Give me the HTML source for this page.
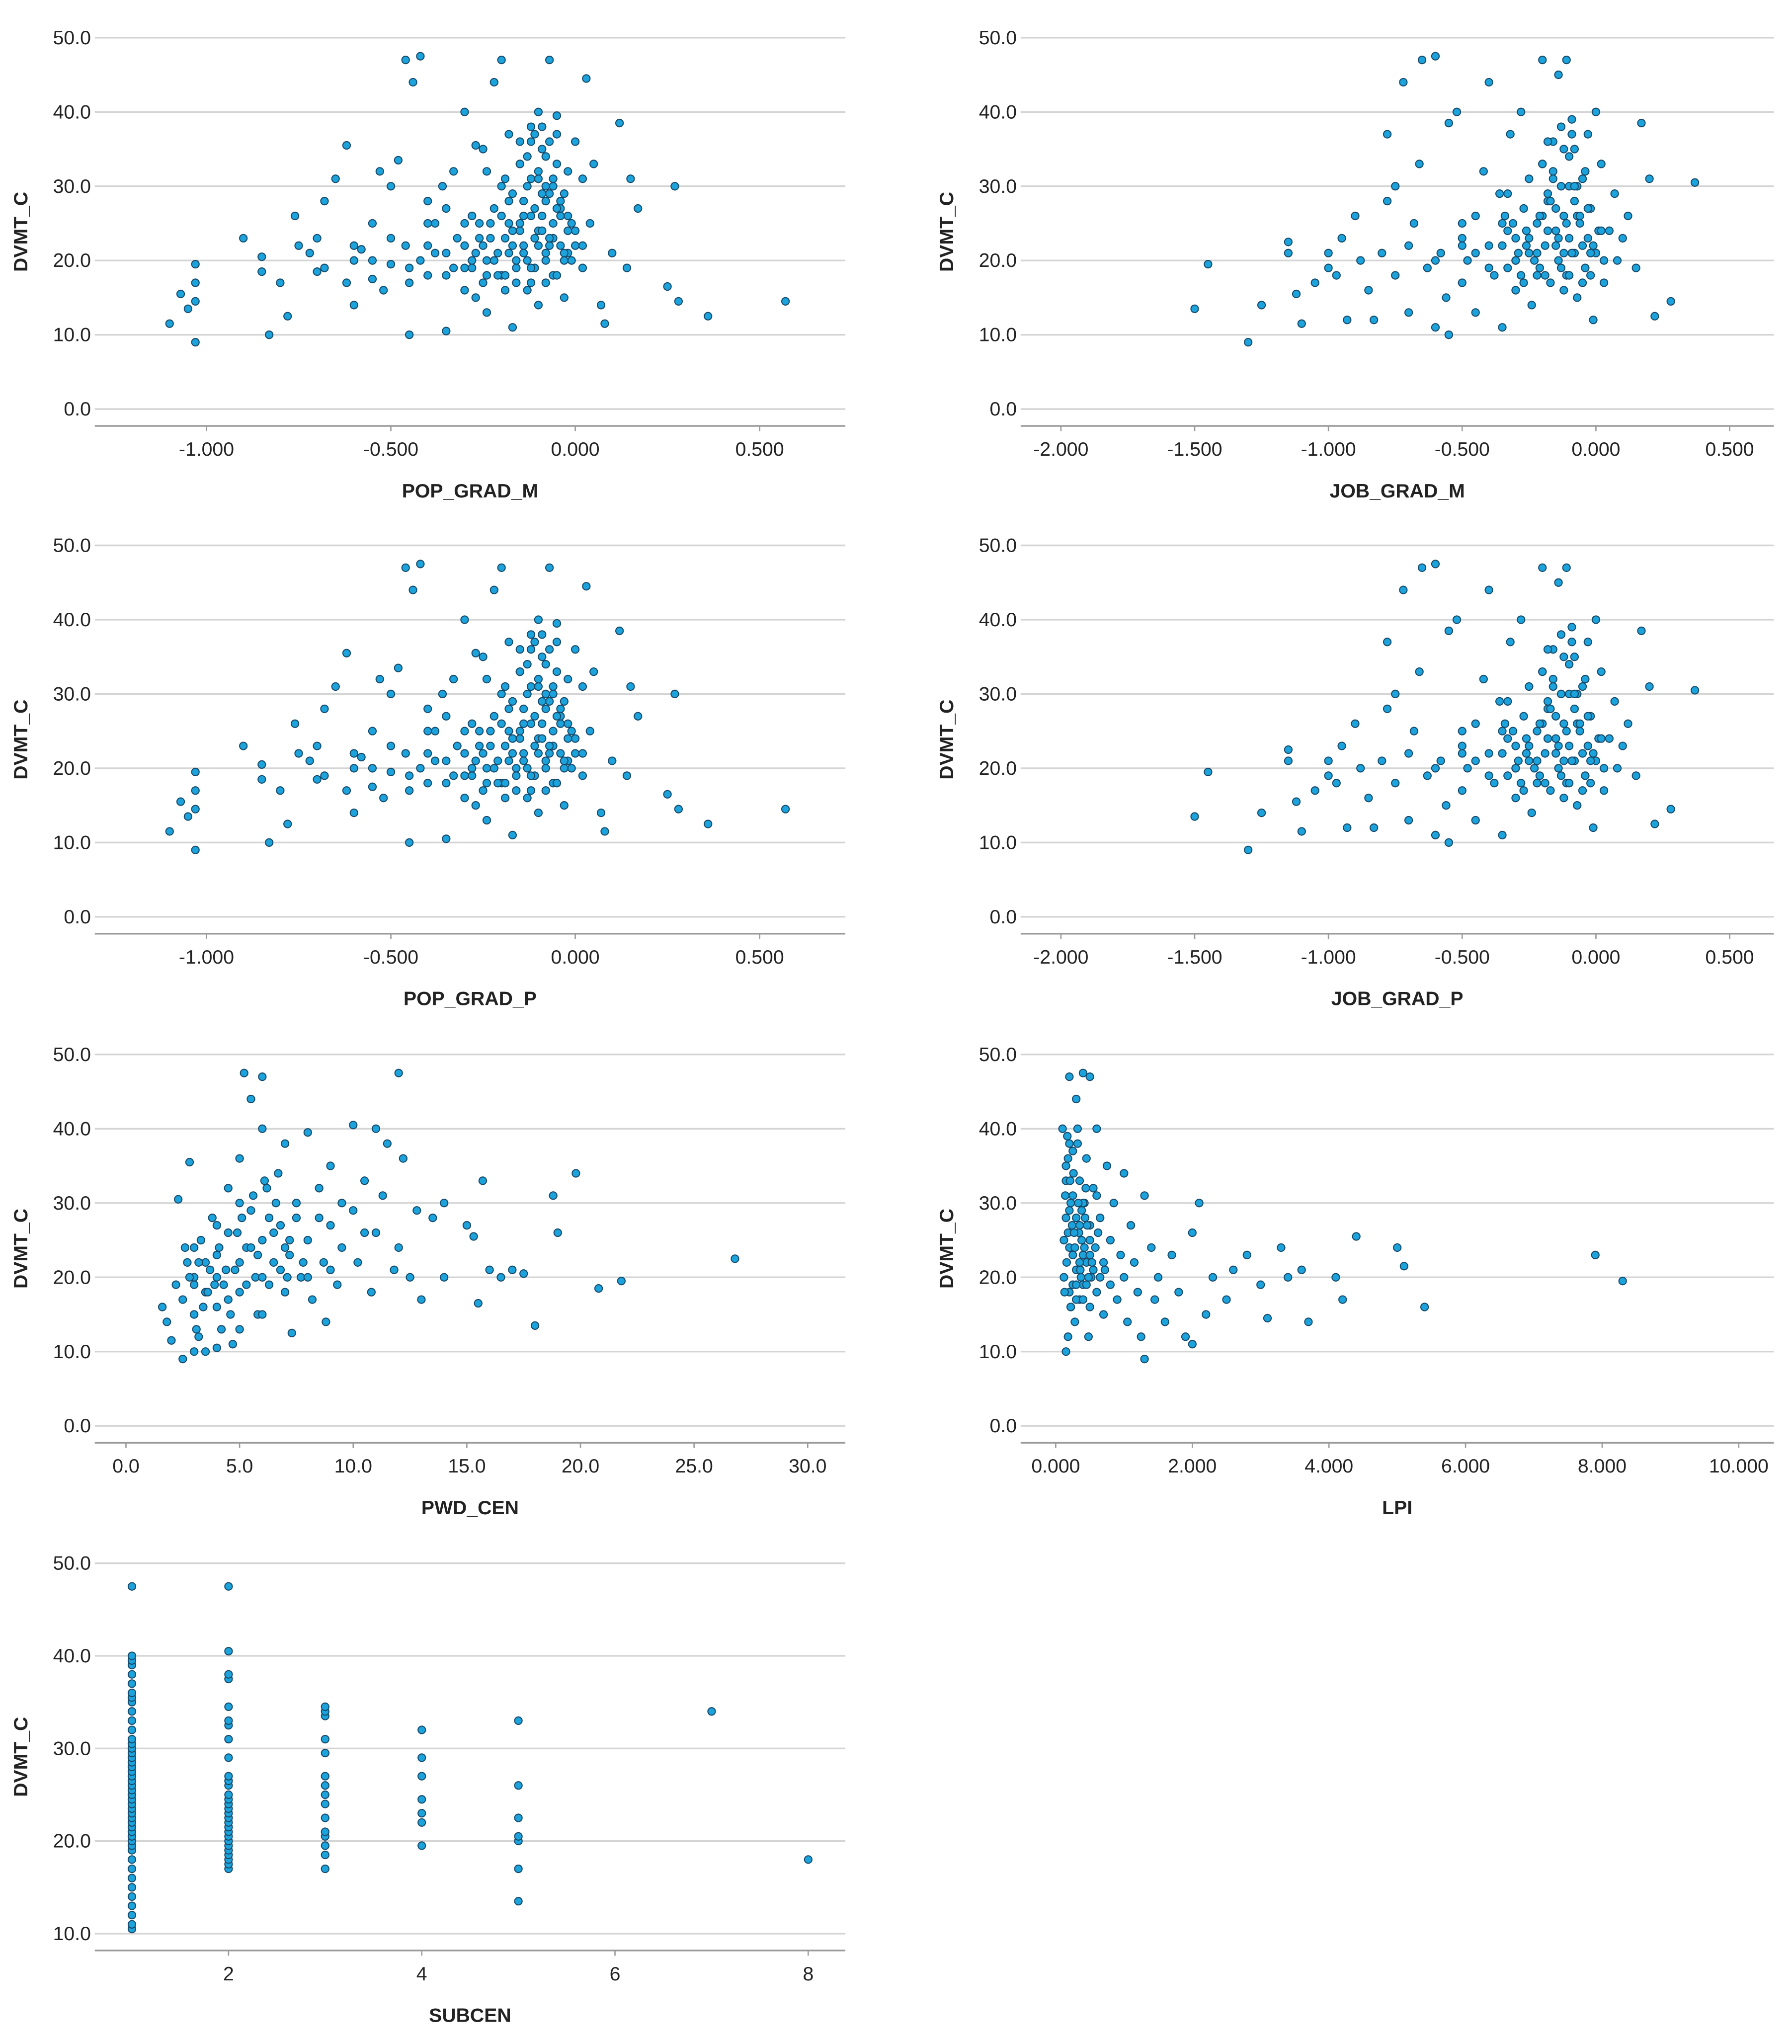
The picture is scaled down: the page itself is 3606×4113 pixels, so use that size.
<!DOCTYPE html>
<html><head><meta charset="utf-8"><style>
html,body{margin:0;padding:0;background:#fff;}
svg{display:block;font-family:"Liberation Sans",Arial,sans-serif;}
</style></head><body>
<svg id="chart" width="3606" height="4113" viewBox="0 0 1380 1574" preserveAspectRatio="none" xmlns="http://www.w3.org/2000/svg"></svg>
<script>
// ---- data (x,y pairs) ----
const popGradX=[-1.1,-1.07,-1.05,-1.03,-1.03,-1.03,-1.03,-0.9,-0.85,-0.85,-0.83,-0.8,-0.78,-0.75,-0.76,-0.72,-0.7,-0.68,-0.68,-0.65,-0.62,-0.6,-0.6,-0.58,-0.55,-0.55,-0.53,-0.5,-0.5,-0.48,-0.46,-0.44,-0.42,-0.46,-0.45,-0.42,-0.4,-0.4,-0.38,-0.36,-0.35,-0.35,-0.33,-0.32,-0.3,-0.3,-0.28,-0.27,-0.25,-0.25,-0.24,-0.22,-0.2,-0.2,-0.2,-0.18,-0.18,-0.17,-0.16,-0.15,-0.14,-0.14,-0.13,-0.12,-0.12,-0.11,-0.1,-0.1,-0.1,-0.09,-0.08,-0.08,-0.07,-0.06,-0.06,-0.05,-0.05,-0.04,-0.03,-0.03,-0.02,-0.01,0,0,0.02,0.02,0.03,0.05,0.07,0.08,0.1,0.12,0.15,0.17,0.14,0.25,0.27,0.28,0.36,0.57,-0.28,-0.26,-0.24,-0.22,-0.21,-0.19,-0.17,-0.16,-0.15,-0.13,-0.12,-0.11,-0.09,-0.08,-0.07,-0.06,-0.04,-0.02,-0.15,-0.05,-0.3,-0.35,-0.4,-0.45,-0.52,-0.62,-0.7,-0.24,-0.19,-0.1,-0.27,0.04,-0.02,-0.08,-0.18,-0.23,
-0.3,-0.28,-0.26,-0.25,-0.23,-0.22,-0.2,-0.19,-0.18,-0.17,-0.16,-0.15,-0.14,-0.13,-0.12,-0.11,-0.1,-0.09,-0.08,-0.07,-0.06,-0.05,-0.04,-0.03,-0.02,0,-0.3,-0.27,-0.24,-0.21,-0.19,-0.17,-0.14,-0.12,-0.09,-0.07,-0.05,-0.03,-0.01,0.02,-0.15,-0.12,-0.1,-0.08,-0.06,-0.04,-0.13,-0.11,-0.09,-0.07,-0.6,-0.55,-0.5,-0.45,-0.4,-0.38,-0.35,-0.33];
const popGradY=[11.5,15.5,13.5,14.5,17,19.5,9,23,20.5,18.5,10,17,12.5,22,26,21,18.5,28,19,31,35.5,20,14,21.5,25,17.5,32,19.5,30,33.5,47,44,47.5,22,10,20,28,18,25,30,21,10.5,32,23,40,19,26,15,35,22,13,44,47,30,18,25,37,11,20,33,28,22,16,38,26,19,31,24,40,35,21,28,47,18,25,33,39.5,22,29,15,26,20,24,36,31,19,44.5,33,14,11.5,21,38.5,31,27,19,16.5,30,14.5,12.5,14.5,20,23,18,27,21,23,29,17,24,20,31,23,26,17,22,30,27,21,36,37,16,27,22,19,16,17,23,32,16,14,35.5,25,32,34,21,25,
22,19,25,17,23,20,26,18,28,22,19,25,21,30,17,27,22,24,20,29,23,18,26,21,24,22,25,21,20,18,31,24,26,19,29,23,27,20,25,22,33,36,32,30,31,28,34,37,38,36,22,20,23,17,25,21,18,19];
const jobGradX=[-1.5,-1.45,-1.3,-1.25,-1.15,-1.15,-1.12,-1.1,-1.05,-1,-1,-0.97,-0.95,-0.93,-0.9,-0.88,-0.85,-0.83,-0.8,-0.78,-0.78,-0.75,-0.75,-0.72,-0.7,-0.7,-0.68,-0.66,-0.65,-0.63,-0.6,-0.6,-0.58,-0.56,-0.55,-0.55,-0.52,-0.5,-0.5,-0.48,-0.45,-0.45,-0.42,-0.4,-0.4,-0.38,-0.36,-0.35,-0.33,-0.32,-0.3,-0.3,-0.28,-0.27,-0.26,-0.25,-0.24,-0.22,-0.21,-0.2,-0.2,-0.19,-0.18,-0.17,-0.16,-0.15,-0.14,-0.14,-0.13,-0.12,-0.11,-0.11,-0.1,-0.1,-0.09,-0.08,-0.08,-0.07,-0.06,-0.05,-0.04,-0.03,-0.03,-0.02,-0.01,0,0,0.02,0.03,0.05,0.07,0.08,0.1,0.12,0.15,0.17,0.2,0.22,0.28,0.37,-0.35,-0.3,-0.25,-0.22,-0.18,-0.15,-0.12,-0.1,-0.07,-0.05,-0.02,-0.4,-0.45,-0.5,-0.33,-0.28,-0.2,-0.16,-0.08,-0.12,
-0.35,-0.33,-0.31,-0.29,-0.27,-0.25,-0.23,-0.21,-0.19,-0.17,-0.15,-0.13,-0.11,-0.09,-0.07,-0.05,-0.03,-0.01,0.01,0.03,-0.34,-0.3,-0.26,-0.22,-0.18,-0.14,-0.1,-0.06,-0.02,0.02,-0.2,-0.16,-0.12,-0.08,-0.04,-0.18,-0.13,-0.09,-0.6,-0.5];
const jobGradY=[13.5,19.5,9,14,21,22.5,15.5,11.5,17,19,21,18,23,12,26,20,16,12,21,28,37,30,18,44,22,13,25,33,47,19,47.5,11,21,15,38.5,10,40,23,17,20,26,13,32,22,44,18,29,11,24,37,20,16,40,27,22,31,14,25,19,33,47,22,28,17,36,24,20,45,30,26,47,18,34,23,39,21,28,15,25,31,19,37,23,27,12,40,21,33,17,24,29,20,23,26,19,38.5,31,12.5,14.5,30.5,25,23,21,18,24,27,21,30,26,22,18,19,21,25,29,18,26,32,35,16,
22,19,25,21,17,23,20,26,18,28,22,19,25,21,30,17,27,22,24,20,26,20,24,21,29,23,18,26,21,24,33,31,35,30,32,36,38,37,20,22];
const pwdX=[1.6,1.8,2,2.2,2.3,2.5,2.7,2.8,3,3,3.2,3.3,3.5,3.5,3.7,3.8,4,4,4.2,4.3,4.5,4.5,4.7,4.8,5,5,5.2,5.3,5.5,5.5,5.7,5.8,6,6,6,6.2,6.3,6.5,6.7,6.8,7,7,7.2,7.3,7.5,7.7,8,8,8.2,8.5,8.7,8.8,9,9,9.3,9.5,10,10,10.2,10.5,10.8,11,11,11.3,11.5,11.8,12,12,12.2,12.5,12.8,13,13.5,14,14,15,15.3,15.5,15.7,16,16.5,17,17.5,18,18.8,19,19.8,20.8,21.8,26.8,3,3.5,4,4.5,5,5.5,6,6.5,7,4,5,8,9,3,2.5,6,7.5,5,4,3,
2.8,3.2,3.6,4.1,4.4,4.9,5.3,5.8,6.3,6.8,7.2,7.8,3.4,3.9,4.6,5.1,5.6,6.1,6.6,7.1,2.6,3.1,8.5,9.5,10.5];
const pwdY=[16,14,11.5,19,30.5,9,22,35.5,15,20,12,25,18,10,21,28,16,23,13,19,32,26,11,21,36,18,47.5,24,44,29,20,15,40,25,47,32,19,22,34,27,18,38,23,12.5,30,20,25,39.5,17,32,22,14,35,27,19,24,40.5,29,22,33,18,40,26,31,38,21,47.5,24,36,20,29,17,28,30,20,27,25.5,16.5,33,21,20,21,20.5,13.5,31,26,34,18.5,19.5,22.5,19,22,20,17,22,24,20,26,24,27,30,20,21,24,17,15,28,13,10.5,10,
20,22,18,24,21,26,19,23,28,21,25,22,16,19,15,28,31,33,30,20,24,13,28,30,26];
const lpiX=[0.1,0.12,0.15,0.15,0.18,0.2,0.2,0.22,0.25,0.25,0.28,0.3,0.3,0.32,0.35,0.35,0.38,0.4,0.4,0.42,0.45,0.45,0.48,0.5,0.5,0.52,0.55,0.58,0.6,0.6,0.65,0.7,0.7,0.75,0.8,0.8,0.85,0.9,0.95,1,1,1.05,1.1,1.15,1.2,1.25,1.3,1.3,1.4,1.45,1.5,1.6,1.7,1.8,1.9,2,2,2.1,2.2,2.3,2.5,2.6,2.8,3,3.1,3.3,3.4,3.6,3.7,4.1,4.2,4.4,5,5.1,5.4,7.9,8.3,0.15,0.2,0.25,0.3,0.35,0.4,0.45,0.5,0.55,0.15,0.2,0.3,0.25,0.35,0.4,0.6,0.5,0.18,0.22,0.65,
0.12,0.14,0.16,0.18,0.2,0.22,0.24,0.26,0.28,0.3,0.32,0.34,0.36,0.38,0.4,0.42,0.44,0.46,0.48,0.5,0.13,0.17,0.21,0.27,0.33,0.37,0.43,0.53,0.62,0.72];
const lpiY=[40,20,33,10,26,47,18,30,23,37,14,28,21,40,17,33,25,47.5,19,30,22,36,12,27,47,20,32,24,18,40,28,22,15,35,25,19,30,17,23,34,20,14,27,22,18,12,9,31,24,17,20,14,23,18,12,26,11,30,15,20,17,21,23,19,14.5,24,20,21,14,20,17,25.5,24,21.5,16,23,19.5,28,24,31,17,27,23,19,25,21,35,38,44,19,22,30,31,16,12,16,20,
25,31,22,36,29,16,27,34,24,19,38,26,21,29,17,24,32,27,20,23,18,39,33,26,30,20,28,22,26,21];
const subX=[1,1,1,1,1,1,1,1,1,1,1,1,1,1,1,1,1,1,1,1,1,1,1,1,1,1,1,1,1,1,1,1,1,1,1,1,1,1,1,1,1,1,1,1,1,1,2,2,2,2,2,2,2,2,2,2,2,2,2,2,2,2,2,2,2,2,2,2,2,2,2,2,2,2,2,3,3,3,3,3,3,3,3,3,3,3,3,3,3,3,4,4,4,4,4,4,4,5,5,5,5,5,5,5,7,8];
const subY=[10.5,11,12,13,14,15,16,17,18,19,19.5,20,20.5,21,21.5,22,22.5,23,23.5,24,24.5,25,25.5,26,26.5,27,27.5,28,28.5,29,29.5,30,30.5,31,32,33,34,35,35.5,36,37,38,39,39.5,40,47.5,17,17.5,18,18.5,19,19.5,20,20.5,21,21.5,22,22.5,23,23.5,24,24.5,25,26,26.5,27,29,31,32.5,33,34.5,37.5,38,40.5,47.5,17,18.5,19.5,20.5,21,22.5,24,25,26,27,29.5,31,33.5,34,34.5,19.5,22,23,24.5,27,29,32,13.5,17,20,20.5,22.5,26,33,34,18];
const yTicksA=[0,10,20,30,40,50];
const yTicksB=[10,20,30,40,50];
const gradTicks1=[-1,-0.5,0,0.5];
const gradTicks2=[-2,-1.5,-1,-0.5,0,0.5];
const pwdTicks=[0,5,10,15,20,25,30];
const lpiTicks=[0,2,4,6,8,10];
const subTicks=[2,4,6,8];

const svg=document.getElementById('chart');
const NS='http://www.w3.org/2000/svg';
function mk(tag,attrs,parent){const e=document.createElementNS(NS,tag);for(const k in attrs)e.setAttribute(k,attrs[k]);(parent||svg).appendChild(e);return e;}

function panel(name,xs,ys,o){
  const g=mk('g',{});
  
  
  const sx=v=>o.x0+(v-o.xv0)*o.xk;
  const sy=v=>o.y0-(v-o.yv0)*o.yk;
  o.yTicks.forEach(t=>{
    const l=mk('line',{x1:o.left,x2:o.right,y1:sy(t),y2:sy(t),stroke:'#d4d4d4','stroke-width':1.3},g);
    
    
    const tx=mk('text',{x:o.left-3,y:sy(t)+5,'text-anchor':'end','font-size':15,fill:'#222'},g);
    tx.textContent=t.toFixed(1);
    
    
  });
  const ax=mk('line',{x1:o.left,x2:o.right,y1:o.axisY,y2:o.axisY,stroke:'#9a9a9a','stroke-width':1.3},g);
  
  
  o.xTicks.forEach(t=>{
    const tk=mk('line',{x1:sx(t),x2:sx(t),y1:o.axisY,y2:o.axisY+4,stroke:'#9a9a9a','stroke-width':1},g);
    
    
    const tx=mk('text',{x:sx(t),y:o.axisY+23,'text-anchor':'middle','font-size':15,fill:'#222'},g);
    tx.textContent=t.toFixed(o.dec);
    
    
  });
  const xt=mk('text',{x:(o.left+o.right)/2,y:o.axisY+55,'text-anchor':'middle','font-size':15,'font-weight':'bold',fill:'#222'},g);
  xt.textContent=o.title;
  
  
  const cy=(sy(o.yTicks[o.yTicks.length-1])+o.axisY)/2;
  const yt=mk('text',{x:o.left-52,y:cy,'text-anchor':'middle','font-size':15,'font-weight':'bold',fill:'#222',transform:'rotate(-90 '+(o.left-52)+' '+cy+')'},g);
  yt.textContent='DVMT_C';
  
  
  for(let i=0;i<xs.length;i++){
    const c=mk('circle',{cx:sx(xs[i]),cy:sy(ys[i]),r:2.9,fill:'#1ca3dc',stroke:'#164a6b','stroke-width':0.8},g);
    
    
  }
}
const L={left:73,right:651}, R={left:786,right:1366};
panel('pop-grad-m',popGradX,popGradY,Object.assign({x0:443,xv0:0,xk:284,y0:315,yv0:0,yk:5.72,axisY:328,yTicks:yTicksA,xTicks:gradTicks1,dec:3,title:'POP_GRAD_M'},L));
panel('job-grad-m',jobGradX,jobGradY,Object.assign({x0:1229,xv0:0,xk:206,y0:315,yv0:0,yk:5.72,axisY:328,yTicks:yTicksA,xTicks:gradTicks2,dec:3,title:'JOB_GRAD_M'},R));
panel('pop-grad-p',popGradX,popGradY,Object.assign({x0:443,xv0:0,xk:284,y0:706,yv0:0,yk:5.72,axisY:719,yTicks:yTicksA,xTicks:gradTicks1,dec:3,title:'POP_GRAD_P'},L));
panel('job-grad-p',jobGradX,jobGradY,Object.assign({x0:1229,xv0:0,xk:206,y0:706,yv0:0,yk:5.72,axisY:719,yTicks:yTicksA,xTicks:gradTicks2,dec:3,title:'JOB_GRAD_P'},R));
panel('pwd-cen',pwdX,pwdY,Object.assign({x0:97,xv0:0,xk:17.5,y0:1098,yv0:0,yk:5.72,axisY:1111,yTicks:yTicksA,xTicks:pwdTicks,dec:1,title:'PWD_CEN'},L));
panel('lpi',lpiX,lpiY,Object.assign({x0:813,xv0:0,xk:52.6,y0:1098,yv0:0,yk:5.72,axisY:1111,yTicks:yTicksA,xTicks:lpiTicks,dec:3,title:'LPI'},R));
panel('subcen',subX,subY,Object.assign({x0:176,xv0:2,xk:74.4,y0:1489,yv0:10,yk:7.13,axisY:1502,yTicks:yTicksB,xTicks:subTicks,dec:0,title:'SUBCEN'},L));
</script>
</body></html>
